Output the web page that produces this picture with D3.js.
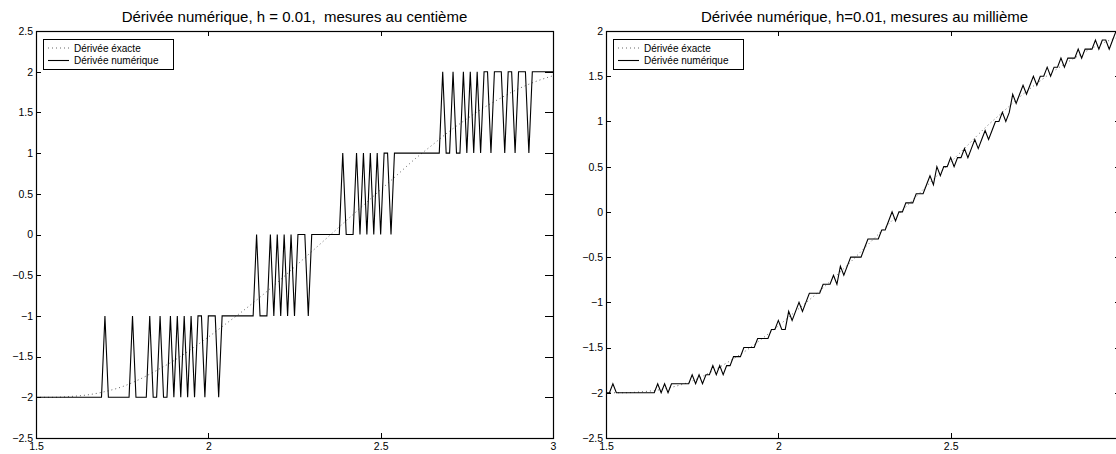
<!DOCTYPE html>
<html>
<head>
<meta charset="utf-8">
<script src="https://cdn.jsdelivr.net/npm/d3@7"></script>
<style>
  html, body { margin: 0; padding: 0; background: #fff; }
  svg { display: block; }
  text { font-family: "Liberation Sans", Arial, Helvetica, sans-serif; fill: #000; }
</style>
</head>
<body>
<svg id="chart" width="1116" height="454"></svg>
<script>
// ---------------- data ----------------
const xTicks = [1.5, 2, 2.5, 3];
const yTicksLeft = [-2.5, -2, -1.5, -1, -0.5, 0, 0.5, 1, 1.5, 2, 2.5];
const yTicksRight = [-2.5, -2, -1.5, -1, -0.5, 0, 0.5, 1, 1.5, 2];

const titleLeft = "Dérivée numérique, h = 0.01,  mesures au centième";
const titleRight = "Dérivée numérique, h=0.01, mesures au millième";
const legendLabels = ["Dérivée éxacte", "Dérivée numérique"];

// sample abscissae: 1.5 : 0.01 : 3
const xGrid = d3.range(151).map(i => +(1.5 + i * 0.01).toFixed(2));

// exact derivative
const exactX = [1.50,1.55,1.60,1.65,1.70,1.75,1.80,1.85,1.90,1.95,2.00,2.05,2.10,2.15,2.20,2.25,
                2.30,2.35,2.40,2.45,2.50,2.55,2.60,2.65,2.70,2.75,2.80,2.85,2.90,2.95,3.00];
const exactY = [-2.00,-2.00,-1.99,-1.97,-1.93,-1.87,-1.78,-1.67,-1.55,-1.41,-1.26,-1.10,-0.94,-0.77,-0.59,-0.40,
                -0.21,-0.02,0.17,0.36,0.55,0.74,0.93,1.10,1.27,1.42,1.56,1.68,1.79,1.88,1.95];

// numeric derivative, measures rounded to 1/100 (left panel)
const numLeft = [
  -2,-2,-2,-2,-2,-2,-2,-2,-2,-2, -2,-2,-2,-2,-2,-2,-2,-2,-2,-2,
  -1,-2,-2,-2,-2,-2,-2,-2,-1,-2, -2,-2,-2,-1,-2,-2,-1,-2,-2,-1,
  -2,-1,-2,-1,-2,-1,-2,-1,-1,-2, -1,-1,-1,-2,-1,-1,-1,-1,-1,-1,
  -1,-1,-1,-1, 0,-1,-1,-1, 0,-1,  0,-1, 0,-1, 0,-1, 0, 0, 0,-1,
   0, 0, 0, 0, 0, 0, 0, 0, 0, 1,  0, 0, 0, 1, 0, 1, 0, 1, 0, 1,
   0, 1, 1, 0, 1, 1, 1, 1, 1, 1,  1, 1, 1, 1, 1, 1, 1, 1, 2, 1,
   1, 2, 1, 1, 2, 1, 2, 1, 2, 1,  2, 2, 1, 2, 2, 2, 1, 2, 2, 1,
   2, 2, 2, 1, 2, 2, 2, 2, 2, 2,  2
];

// numeric derivative, measures rounded to 1/1000 (right panel)
const numRight = [
  -2.0,-2.0,-1.9,-2.0,-2.0,-2.0,-2.0,-2.0,-2.0,-2.0, -2.0,-2.0,-2.0,-2.0,-2.0,-1.9,-2.0,-1.9,-2.0,-1.9,
  -1.9,-1.9,-1.9,-1.9,-1.9,-1.8,-1.9,-1.8,-1.9,-1.8, -1.8,-1.7,-1.8,-1.7,-1.8,-1.7,-1.7,-1.6,-1.6,-1.6,
  -1.5,-1.5,-1.5,-1.5,-1.4,-1.4,-1.4,-1.4,-1.3,-1.3, -1.2,-1.3,-1.3,-1.1,-1.2,-1.1,-1.0,-1.1,-1.0,-0.9,
  -0.9,-0.9,-0.9,-0.8,-0.8,-0.8,-0.7,-0.8,-0.6,-0.7, -0.6,-0.5,-0.5,-0.5,-0.5,-0.4,-0.3,-0.3,-0.3,-0.3,
  -0.2,-0.2,-0.1, 0.0,-0.1, 0.0, 0.0, 0.1, 0.1, 0.1,  0.2, 0.2, 0.2, 0.3, 0.4, 0.3, 0.5, 0.4, 0.5, 0.5,
   0.6, 0.5, 0.6, 0.6, 0.7, 0.6, 0.7, 0.8, 0.7, 0.8,  0.9, 0.8, 0.9, 1.0, 1.0, 1.1, 1.0, 1.1, 1.3, 1.2,
   1.3, 1.4, 1.3, 1.4, 1.5, 1.4, 1.5, 1.5, 1.6, 1.5,  1.6, 1.6, 1.7, 1.6, 1.7, 1.7, 1.7, 1.8, 1.7, 1.8,
   1.8, 1.8, 1.9, 1.8, 1.9, 1.9, 1.8, 1.9, 2.0, 1.9,  2.0
];

// ---------------- drawing ----------------
const W = 1116;
const svg = d3.select("#chart");
const FONT_TICK = 10.5, FONT_TITLE = 15, FONT_LEG = 10, TICK = 5;

const panels = [
  { x0: 36, x1: 553, y0: 31, y1: 438, ydom: [-2.5, 2.5], yticks: yTicksLeft, num: numLeft, title: titleLeft, id: "L" },
  { x0: 606, x1: 1123, y0: 31, y1: 438, ydom: [-2.5, 2], yticks: yTicksRight, num: numRight, title: titleRight, id: "R" }
];

panels.forEach(p => {
  const x = d3.scaleLinear().domain([1.5, 3]).range([p.x0, p.x1]);
  const y = d3.scaleLinear().domain(p.ydom).range([p.y1, p.y0]);
  const g = svg.append("g");

  g.append("clipPath").attr("id", "clip" + p.id)
    .append("rect").attr("x", p.x0).attr("y", p.y0).attr("width", p.x1 - p.x0).attr("height", p.y1 - p.y0);

  // data lines
  const plot = g.append("g").attr("clip-path", `url(#clip${p.id})`);
  plot.append("path")
    .datum(exactX.map((v, i) => [v, exactY[i]]))
    .attr("fill", "none").attr("stroke", "#666").attr("stroke-width", 1)
    .attr("stroke-dasharray", "1 3")
    .attr("d", d3.line().curve(d3.curveMonotoneX).x(d => x(d[0])).y(d => y(d[1])));
  plot.append("path")
    .datum(xGrid.map((v, i) => [v, p.num[i]]))
    .attr("fill", "none").attr("stroke", "#000").attr("stroke-width", 1.1)
    .attr("stroke-linejoin", "miter")
    .attr("d", d3.line().x(d => x(d[0])).y(d => y(d[1])));

  // labelled ticks only where the label fits inside the picture
  const xLabelTicks = xTicks.filter(t => x(t) + 4 <= W);
  const axB = d3.axisBottom(x).tickValues(xLabelTicks).tickSize(0).tickPadding(5).tickFormat(d3.format("~g"));
  const axL = d3.axisLeft(y).tickValues(p.yticks).tickSize(0).tickPadding(3).tickFormat(d3.format("~g"));
  const gb = g.append("g").attr("transform", `translate(0,${p.y1})`).call(axB);
  const gl = g.append("g").attr("transform", `translate(${p.x0},0)`).call(axL);
  [gb, gl].forEach(a => {
    a.select(".domain").remove();
    a.selectAll("text").attr("font-size", FONT_TICK)
      .attr("font-family", '"Liberation Sans", Arial, sans-serif').attr("fill", "#000");
  });
  gb.selectAll("text").attr("dy", "0.71em");

  // inward ticks on all four sides
  const tk = g.append("g").attr("stroke", "#000").attr("stroke-width", 1);
  xTicks.forEach(t => {
    const xx = Math.round(x(t)) + 0.5;
    tk.append("line").attr("x1", xx).attr("x2", xx).attr("y1", p.y1).attr("y2", p.y1 - TICK);
    tk.append("line").attr("x1", xx).attr("x2", xx).attr("y1", p.y0).attr("y2", p.y0 + TICK);
  });
  p.yticks.forEach(t => {
    const yy = Math.round(y(t)) + 0.5;
    tk.append("line").attr("x1", p.x0).attr("x2", p.x0 + TICK).attr("y1", yy).attr("y2", yy);
    tk.append("line").attr("x1", p.x1).attr("x2", p.x1 - TICK - 3).attr("y1", yy).attr("y2", yy);
  });

  // box
  g.append("rect").attr("x", p.x0 + 0.5).attr("y", p.y0 + 0.5)
    .attr("width", p.x1 - p.x0).attr("height", p.y1 - p.y0)
    .attr("fill", "none").attr("stroke", "#000").attr("stroke-width", 1.2);

  // title
  g.append("text").attr("x", (p.x0 + p.x1) / 2).attr("y", 22)
    .attr("text-anchor", "middle").attr("font-size", FONT_TITLE)
    .style("white-space", "pre").text(p.title);

  // legend
  const lx = p.x0 + 7, ly = p.y0 + 8, lw = 130, lh = 30;
  const lg = g.append("g");
  lg.append("rect").attr("x", lx + 0.5).attr("y", ly + 0.5).attr("width", lw).attr("height", lh)
    .attr("fill", "#fff").attr("stroke", "#000").attr("stroke-width", 1);
  const rows = [{ dash: "1 3", col: "#666", w: 1 }, { dash: null, col: "#000", w: 1.1 }];
  rows.forEach((r, i) => {
    const yy = ly + 9 + i * 12.5;
    lg.append("line").attr("x1", lx + 5).attr("x2", lx + 26).attr("y1", yy).attr("y2", yy)
      .attr("stroke", r.col).attr("stroke-width", r.w).attr("stroke-dasharray", r.dash);
    lg.append("text").attr("x", lx + 31).attr("y", yy).attr("dy", "0.35em")
      .attr("font-size", FONT_LEG).text(legendLabels[i]);
  });
});
</script>
</body>
</html>
